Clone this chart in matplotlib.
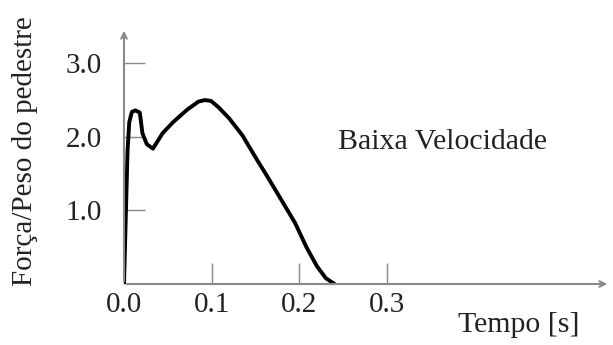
import matplotlib.pyplot as plt

# ground reaction force / body weight, slow walking
tempo = [0.0, 0.002, 0.004, 0.006, 0.009, 0.013, 0.018, 0.021, 0.026, 0.033,
         0.044, 0.056, 0.072, 0.085, 0.092, 0.099, 0.108, 0.120, 0.135, 0.150,
         0.165, 0.180, 0.195, 0.208, 0.220, 0.230, 0.240]
forca = [0.0, 0.9, 1.8, 2.2, 2.34, 2.36, 2.33, 2.05, 1.90, 1.84,
         2.05, 2.20, 2.37, 2.48, 2.50, 2.49, 2.40, 2.25, 2.02, 1.72,
         1.43, 1.13, 0.83, 0.50, 0.24, 0.08, 0.0]

xticks = [0.0, 0.1, 0.2, 0.3]
yticks = [1.0, 2.0, 3.0]

plt.rcParams['font.family'] = ['Liberation Serif', 'DejaVu Serif']

fig = plt.figure(figsize=(6.13, 3.45), dpi=100)
ax = fig.add_axes([124/613, 61/345, 486/613, 256/345])

ax.plot(tempo, forca, c='k', lw=2.8, solid_capstyle='round', solid_joinstyle='round')

ax.set_xlim(0, 0.554)
ax.set_ylim(0, 3.48)

for s in ax.spines.values():
    s.set_visible(False)

# axes drawn as arrows
ax.annotate('', xy=(1.0, 0), xytext=(0, 0), xycoords='axes fraction',
            arrowprops=dict(arrowstyle='->', color='#8a8a8a', lw=1.5))
ax.annotate('', xy=(0, 1.0), xytext=(0, 0), xycoords='axes fraction',
            arrowprops=dict(arrowstyle='->', color='#8a8a8a', lw=1.5))

ax.set_xticks(xticks)
ax.set_xticklabels(['%.1f' % v for v in xticks])
ax.set_yticks(yticks)
ax.set_yticklabels(['%.1f' % v for v in yticks])
ax.tick_params(direction='in', color='#8a8a8a', length=15, width=1,
               labelsize=21, labelcolor='#222222')
ax.tick_params(axis='y', pad=16)
ax.tick_params(axis='x', pad=6)

ax.text(0.244, 1.93, 'Baixa Velocidade', fontsize=21.5, ha='left', va='center',
        color='#222222')
ax.text(0.381, -0.56, 'Tempo [s]', fontsize=21.5, ha='left', va='center',
        color='#222222')

fig.text(0.041, 0.562, 'Força/Peso do pedestre', rotation=90, fontsize=21,
         ha='center', va='center', color='#222222')

fig.savefig('out.png', dpi=100)
